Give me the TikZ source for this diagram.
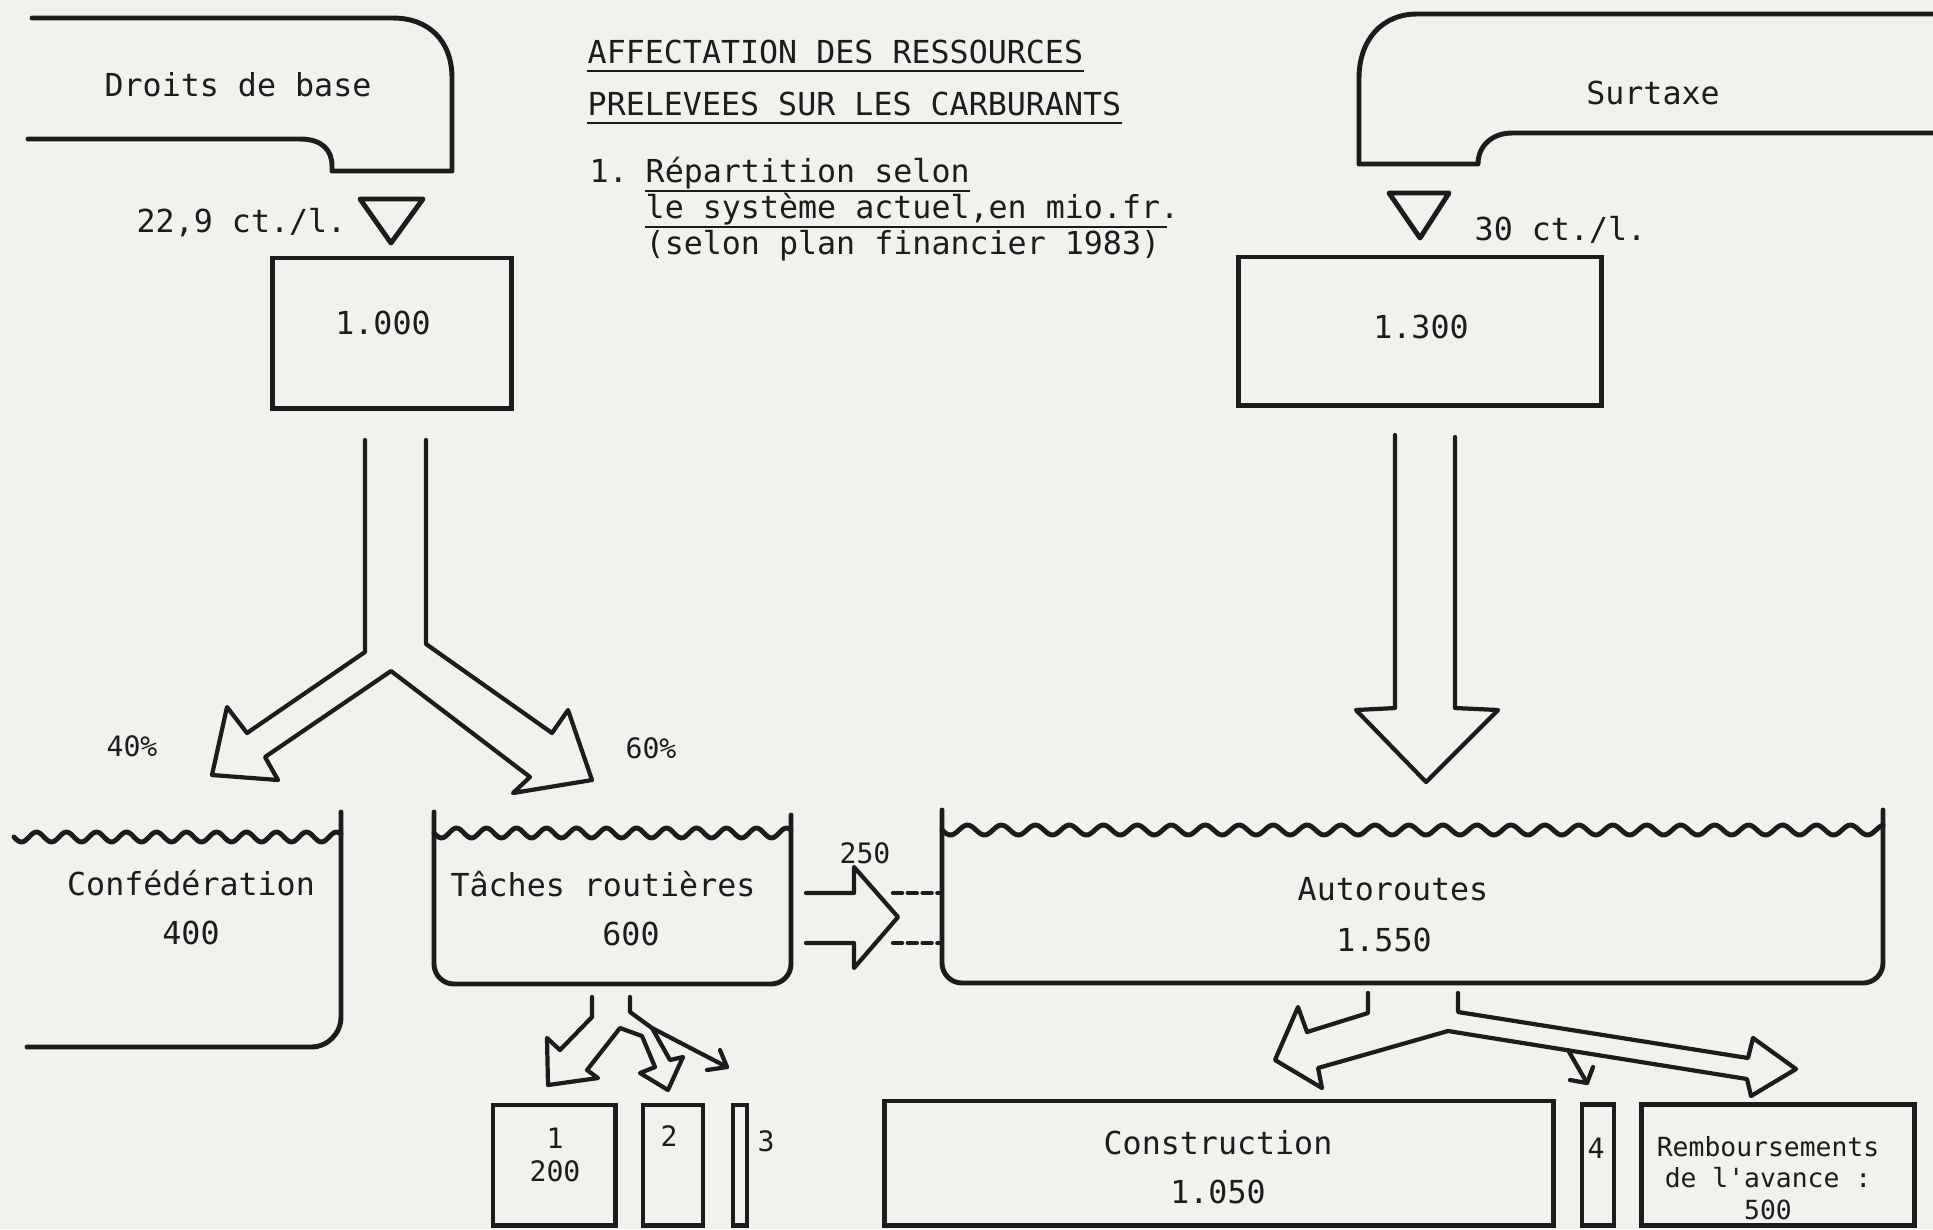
\documentclass[tikz,border=0pt]{standalone}
\usepackage{fontspec}
\newfontfamily\typefont{DejaVu Sans Mono}
\definecolor{ink}{HTML}{1C1C1C}
\definecolor{paper}{HTML}{F1F1EE}

\begin{document}
\begin{tikzpicture}[x=0.01cm, y=-0.01cm,
  every node/.style={font=\typefont\fontsize{9}{11}\selectfont, text=ink, inner sep=0pt},
  petit/.style={font=\typefont\fontsize{8}{9.6}\selectfont},
  contour/.style={line width=1.4pt, color=ink, line join=round, line cap=round},
  fleche/.style={line width=1.2pt, color=ink, line join=round, line cap=round},
  cadre/.style={draw=ink, line width=1.4pt},
  souligne/.style={line width=0.7pt, color=ink}]
  \useasboundingbox (0,0) rectangle (1933,1229);
  \fill[paper] (0,0) rectangle (1933,1229);

  \draw[contour] (28,139) -- (300,139) .. controls (322,139) and (332,150) .. (332,166)
    -- (332,171) -- (452,171) -- (452,78) .. controls (452,40) and (428,18) .. (393,18) -- (32,18);
  \node (droits) at (238,85) {Droits de base};
  \draw[contour] (1933,14) -- (1417,14) .. controls (1382,14) and (1359,40) .. (1359,78)
    -- (1359,164) -- (1478,164) .. controls (1478,146) and (1492,133) .. (1512,133) -- (1933,133);
  \node (surtaxe) at (1653,93) {Surtaxe};

  \draw[contour] (360,199) -- (423,199) -- (391,243) -- cycle;
  \node[anchor=east] (tauxbase) at (347,223) {22,9 ct./l.};
  \draw[contour] (1389,193) -- (1449,193) -- (1420,238) -- cycle;
  \node[anchor=west] (tauxsur) at (1474,230) {30 ct./l.};

  \node[cadre, minimum width=2.39cm, minimum height=1.50cm] (recbase) at (392,333) {};
  \node (mbase) at (383,323) {1.000};
  \node[cadre, minimum width=3.62cm, minimum height=1.48cm] (recsur) at (1420,331) {};
  \node (msur) at (1421,327) {1.300};

  \node[anchor=base west] (titre1) at (587,63) {AFFECTATION DES RESSOURCES};
  \node[anchor=base west] (titre2) at (587,115) {PRELEVEES SUR LES CARBURANTS};
  \node[anchor=base west] (num) at (589,182) {1.};
  \node[anchor=base west] (sous1) at (645,182) {Répartition selon};
  \node[anchor=base west] (sous2) at (645,218) {le système actuel,en mio.fr.};
  \node[anchor=base west] (sous3) at (645,254) {(selon plan financier 1983)};
  \draw[souligne] ([yshift=-2.3pt]titre1.base west) -- ([yshift=-2.3pt]titre1.base east);
  \draw[souligne] ([yshift=-2.3pt]titre2.base west) -- ([yshift=-2.3pt]titre2.base east);
  \draw[souligne] ([yshift=-2.6pt]sous1.base west) -- ([yshift=-2.6pt]sous1.base east);
  \draw[souligne] ([yshift=-2.6pt]sous2.base west) -- ([yshift=-2.6pt, xshift=-3.6pt]sous2.base east);

  \draw[fleche] (365,440) -- (365,652) -- (247,733) -- (227,707) -- (212,775) -- (278,780)
    -- (265,757) -- (391,671) -- (530,777) -- (513,793) -- (592,780) -- (568,710)
    -- (552,733) -- (426,644) -- (426,440);
  \node[petit] (pc40) at (132,746) {40\%};
  \node[petit] (pc60) at (651,748) {60\%};
  \draw[fleche] (1395,435) -- (1395,708) -- (1356,710) -- (1426,782) -- (1498,710)
    -- (1455,708) -- (1455,437);

  \draw[contour, rounded corners=0.3cm] (341,812) -- (341,1047) -- (27,1047);
  \draw[contour] plot[domain=14:341, samples=140] (\x, {837+5*sin(12*(\x-14))});
  \node (conf) at (191,883) {Confédération};
  \node (confval) at (191,933) {400};
  \draw[contour, rounded corners=0.2cm] (434,812) -- (434,984) -- (791,984) -- (791,815);
  \draw[contour] plot[domain=434:791, samples=150] (\x, {833+5*sin(12*(\x-434))});
  \node (taches) at (603,884) {Tâches routières};
  \node (tachesval) at (631,934) {600};
  \draw[contour, rounded corners=0.2cm] (942,810) -- (942,983) -- (1883,983) -- (1883,810);
  \draw[contour] plot[domain=942:1883, samples=380] (\x, {830+5*sin(10.6*(\x-942))});
  \node (auto) at (1393,889) {Autoroutes};
  \node (autoval) at (1384,940) {1.550};

  \node[petit] (transfert) at (865,853) {250};
  \draw[fleche] (806,893) -- (854,893) -- (854,867) -- (898,917) -- (854,968) -- (854,943) -- (806,943);
  \draw[fleche, dash pattern=on 2.6pt off 1.6pt] (893,893) -- (940,893);
  \draw[fleche, dash pattern=on 2.6pt off 1.6pt] (893,943) -- (940,943);

  \draw[fleche] (592,997) -- (592,1017) -- (560,1050) -- (547,1038) -- (548,1085) -- (598,1078)
    -- (587,1070) -- (620,1028) -- (642,1036) -- (655,1067) -- (640,1073) -- (668,1090)
    -- (683,1057) -- (670,1060) -- (652,1028) -- (630,1012) -- (630,997);
  \draw[fleche] (652,1028) -- (727,1067);
  \draw[fleche] (720,1050) -- (727,1067) -- (707,1070);

  \draw[fleche] (1368,993) -- (1368,1013) -- (1307,1032) -- (1298,1007) -- (1275,1060)
    -- (1322,1088) -- (1318,1068) -- (1448,1031) -- (1747,1079) -- (1751,1096)
    -- (1796,1069) -- (1753,1038) -- (1748,1058) -- (1458,1012) -- (1458,993);
  \draw[fleche] (1568,1050) -- (1587,1083);
  \draw[fleche] (1593,1067) -- (1587,1083) -- (1570,1080);

  \node[cadre, minimum width=1.22cm, minimum height=1.20cm] (b1) at (554,1165) {};
  \node[petit, align=center] (b1t) at (555,1155) {1\\200};
  \node[cadre, minimum width=0.60cm, minimum height=1.20cm] (b2) at (673,1165) {};
  \node[petit] (b2t) at (669,1136) {2};
  \node[cadre, minimum width=0.14cm, minimum height=1.20cm] (b3) at (740,1165) {};
  \node[petit] (b3t) at (766,1141) {3};
  \node[cadre, minimum width=6.68cm, minimum height=1.24cm] (constr) at (1219,1163) {};
  \node (constrt) at (1218,1143) {Construction};
  \node (constrv) at (1218,1192) {1.050};
  \node[cadre, minimum width=0.32cm, minimum height=1.21cm] (b4) at (1598,1165) {};
  \node[petit] (b4t) at (1596,1148) {4};
  \node[cadre, minimum width=2.73cm, minimum height=1.21cm] (remb) at (1778,1165) {};
  \node[align=center, font=\typefont\fontsize{7.5}{9}\selectfont] (rembt) at (1768,1178)
    {Remboursements\\de l'avance :\\500};
\end{tikzpicture}
\end{document}
